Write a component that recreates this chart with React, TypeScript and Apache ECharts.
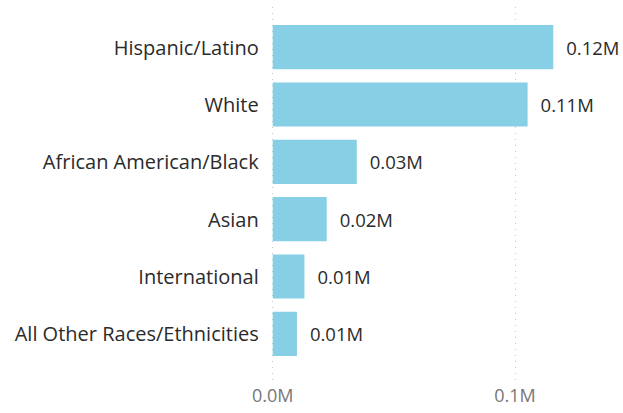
import React, { useEffect, useRef } from "react";
import * as echarts from "echarts";

const categories = [
  "Hispanic/Latino",
  "White",
  "African American/Black",
  "Asian",
  "International",
  "All Other Races/Ethnicities",
];
const values = [0.1158, 0.1052, 0.0347, 0.0223, 0.0131, 0.01];
const valueLabels = ["0.12M", "0.11M", "0.03M", "0.02M", "0.01M", "0.01M"];

const AXIS_MAX = 0.14;

export default function App() {
  const ref = useRef<HTMLDivElement>(null);
  useEffect(() => {
    if (!ref.current) return;
    const chart = echarts.init(ref.current, undefined, { renderer: "svg" });
    const left = 272.7;
    const right = 11.1;
    chart.setOption({
      animation: false,
      grid: [
        { left, right, top: 18.5, bottom: 50.5 },
        { left, right, top: 7, bottom: 33 },
      ],
      xAxis: [
        {
          gridIndex: 0,
          type: "value",
          min: 0,
          max: AXIS_MAX,
          interval: 0.1,
          axisLabel: { show: false },
          axisLine: { show: false },
          axisTick: { show: false },
          splitLine: { show: false },
        },
        {
          gridIndex: 1,
          type: "value",
          min: 0,
          max: AXIS_MAX,
          interval: 0.1,
          axisLine: { show: false },
          axisTick: { show: false },
          axisLabel: {
            showMaxLabel: false,
            color: "#777777",
            fontFamily: "Open Sans",
            fontSize: 18,
            margin: 6,
            formatter: (v: number) => v.toFixed(1) + "M",
          },
          splitLine: {
            show: true,
            showMaxLine: false,
            lineStyle: { color: "#c8c8c8", type: [1, 5], width: 1 },
          },
        },
      ],
      yAxis: [
        {
          gridIndex: 0,
          type: "category",
          inverse: true,
          data: categories,
          axisLine: { show: false },
          axisTick: { show: false },
          axisLabel: {
            color: "#2b2b2b",
            fontFamily: "Open Sans",
            fontSize: 20,
            margin: 14,
          },
        },
        {
          gridIndex: 1,
          type: "value",
          min: 0,
          max: 1,
          show: false,
        },
      ],
      series: [
        {
          type: "bar",
          xAxisIndex: 0,
          yAxisIndex: 0,
          data: values,
          barCategoryGap: "23%",
          itemStyle: { color: "#86cfe5" },
          z: 3,
          label: {
            show: true,
            position: "right",
            distance: 13,
            color: "#2b2b2b",
            fontFamily: "Open Sans",
            fontSize: 18.5,
            formatter: (p: any) => valueLabels[p.dataIndex],
          },
        },
      ],
    });
    return () => chart.dispose();
  }, []);
  return (
    <div
      ref={ref}
      style={{ position: "absolute", left: 0, top: 0, width: 623, height: 413 }}
    />
  );
}
